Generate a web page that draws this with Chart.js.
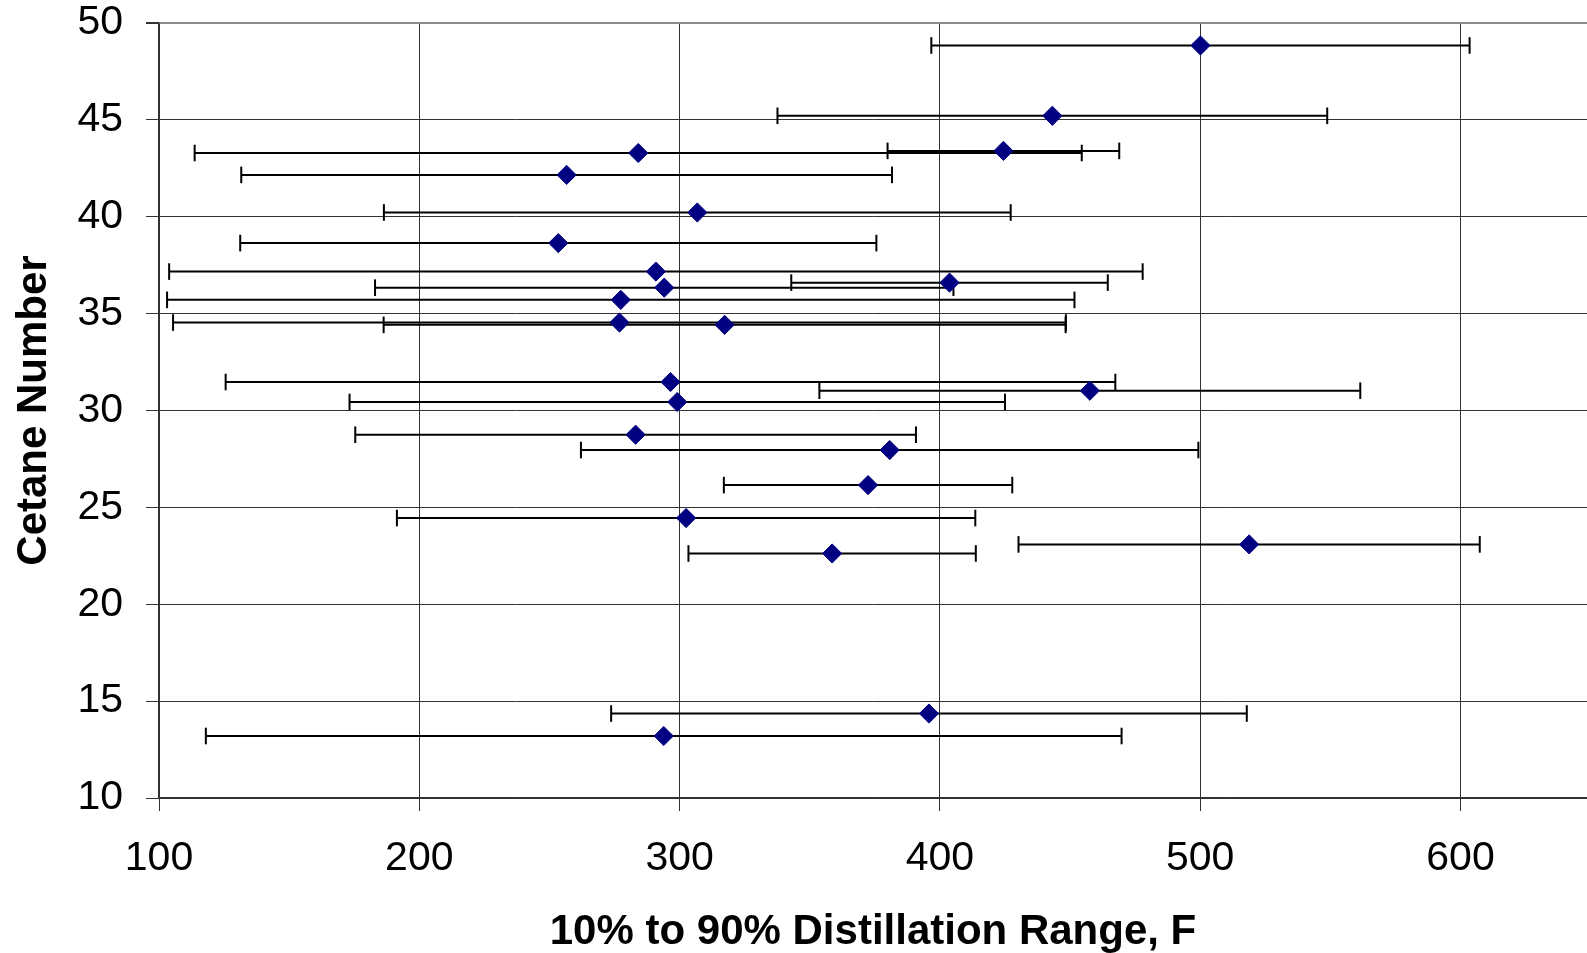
<!DOCTYPE html>
<html>
<head>
<meta charset="utf-8">
<title>Cetane Number vs Distillation Range</title>
<script src="https://cdn.jsdelivr.net/npm/chart.js@4.4.1/dist/chart.umd.min.js"></script>
<style>
  html, body { margin: 0; padding: 0; background: #ffffff; overflow: hidden; }
  #wrap { position: relative; width: 1587px; height: 953px; }
</style>
</head>
<body>
<div id="wrap"><canvas id="chart"></canvas></div>
<script>
// Mean 10%-90% distillation range (F) for each fuel
const rangeMean = [500.1, 443.2, 284.1, 424.4, 256.6, 306.8, 253.4, 290.9, 403.7, 294.1, 277.4, 276.9,
                   317.3, 296.5, 457.6, 299.1, 283.1, 380.7, 372.4, 302.5, 518.8, 358.6, 395.8, 293.9];
// Measured cetane number for each fuel
const cetane = [48.84, 45.21, 43.29, 43.40, 42.16, 40.22, 38.64, 37.17, 36.60, 36.34, 35.71, 34.54,
                34.42, 31.47, 31.02, 30.44, 28.75, 27.96, 26.15, 24.45, 23.09, 22.62, 14.36, 13.20];
// Half-width of each horizontal error bar (F)
const rangeSpread = [103.4, 105.6, 170.4, 44.5, 125.0, 120.4, 122.2, 187.0, 60.8, 111.1, 174.3, 171.5,
                     131.0, 170.9, 103.9, 125.9, 107.7, 118.6, 55.4, 111.1, 88.6, 55.2, 122.1, 175.9];

const xTicks = [100, 200, 300, 400, 500, 600];
const yTicks = [10, 15, 20, 25, 30, 35, 40, 45, 50];

const FONT = '"Liberation Sans", Arial, Helvetica, sans-serif';

// Each error bar is a two-point line with vertical caps at both ends
const errorBarSets = rangeMean.map((x, i) => ({
  type: 'line',
  data: [{ x: x - rangeSpread[i], y: cetane[i] }, { x: x + rangeSpread[i], y: cetane[i] }],
  borderColor: '#000000',
  borderWidth: 2,
  pointStyle: 'line',
  pointRotation: 90,
  pointRadius: 8.3,
  pointBorderColor: '#000000',
  pointBorderWidth: 2,
  fill: false,
  tension: 0,
  order: 1
}));

const markerSet = {
  type: 'scatter',
  data: rangeMean.map((x, i) => ({ x: x, y: cetane[i] })),
  pointStyle: 'rectRot',
  pointRadius: 9.6,
  pointBackgroundColor: '#000080',
  pointBorderColor: '#000080',
  pointBorderWidth: 1,
  order: 0
};

new Chart(document.getElementById('chart'), {
  type: 'scatter',
  data: { datasets: [markerSet, ...errorBarSets] },
  options: {
    responsive: true,
    maintainAspectRatio: false,
    animation: false,
    events: [],
    layout: { autoPadding: false, padding: { top: 23, right: 0, bottom: 0, left: 0 } },
    plugins: { legend: { display: false }, tooltip: { enabled: false } },
    scales: {
      x: {
        type: 'linear',
        min: 100,
        max: 648.6,
        afterBuildTicks: (scale) => { scale.ticks = xTicks.map(v => ({ value: v })); },
        afterFit: (scale) => { scale.height = 155; scale.paddingRight = 0; },
        grid: { color: '#333333', lineWidth: 1, tickLength: 13, tickColor: '#333333' },
        border: { color: '#333333', width: 1.5 },
        ticks: {
          color: '#000000',
          padding: 27,
          maxRotation: 0,
          font: { family: FONT, size: 41, lineHeight: 1 }
        },
        title: {
          display: true,
          text: '10% to 90% Distillation Range, F',
          color: '#000000',
          padding: { top: 0, bottom: 0 },
          font: { family: FONT, size: 42, weight: 'bold', lineHeight: 1 }
        }
      },
      y: {
        type: 'linear',
        min: 10,
        max: 50,
        afterBuildTicks: (scale) => { scale.ticks = yTicks.map(v => ({ value: v })); },
        afterFit: (scale) => { scale.width = 159; scale.paddingTop = 0; scale.paddingBottom = 0; },
        grid: {
          color: (ctx) => (ctx.tick && ctx.tick.value === 50) ? '#8c8c8c' : '#333333',
          lineWidth: (ctx) => (ctx.tick && ctx.tick.value === 50) ? 2 : 1,
          tickLength: 13,
          tickColor: '#333333'
        },
        border: { color: '#333333', width: 1.5 },
        ticks: {
          color: '#000000',
          padding: 23,
          font: { family: FONT, size: 41, lineHeight: 1 }
        },
        title: {
          display: true,
          text: 'Cetane Number',
          color: '#000000',
          padding: { top: 9, bottom: 0 },
          font: { family: FONT, size: 42, weight: 'bold', lineHeight: 1.2 }
        }
      }
    }
  }
});
</script>
</body>
</html>
